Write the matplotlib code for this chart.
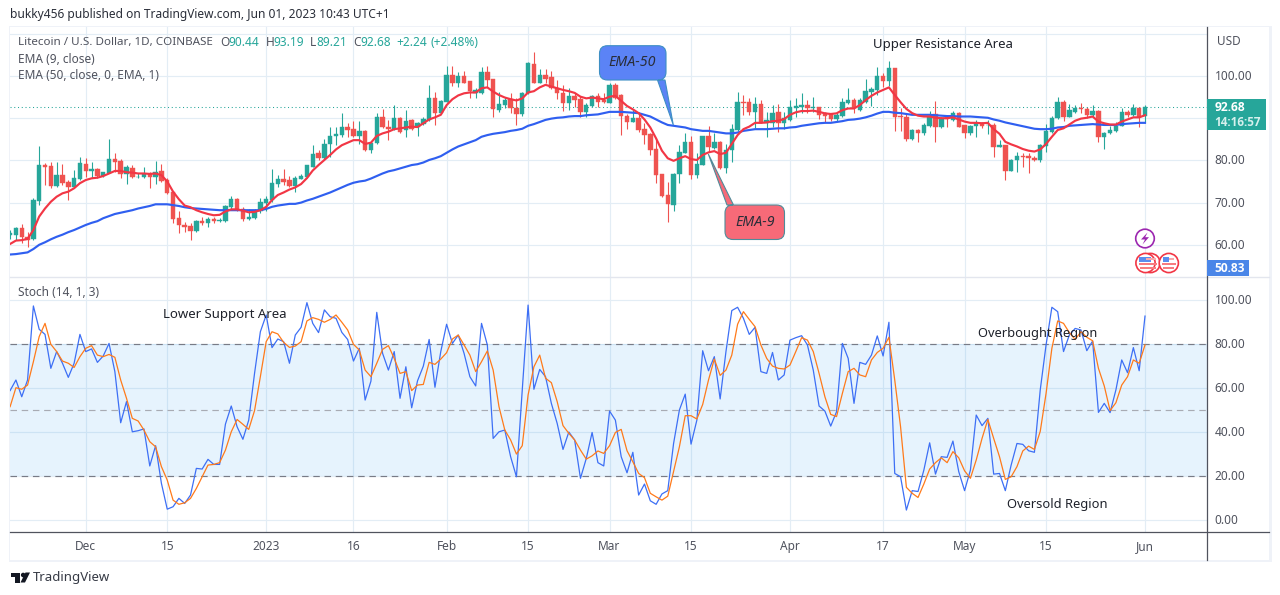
import numpy as np
import matplotlib
matplotlib.use("Agg")
import matplotlib.pyplot as plt
from matplotlib.patches import Rectangle, Circle, Polygon, PathPatch
from matplotlib.path import Path

FONT = ["Noto Sans", "DejaVu Sans"]
plt.rcParams["font.family"] = FONT

opens = [62.4,62.3,63.9,61.8,61.3,70.4,78.9,78.7,74.0,76.5,
75.0,73.6,75.6,79.1,77.6,78.0,76.4,77.1,80.3,79.9,
76.8,78.1,76.0,76.1,76.7,76.1,77.4,75.4,72.4,66.3,
64.8,64.5,63.3,65.6,65.2,66.0,65.7,65.6,69.0,70.9,
68.6,66.1,66.3,67.9,69.8,70.6,74.4,75.6,75.4,74.0,
75.7,76.1,78.5,81.7,80.5,83.9,85.9,86.0,87.8,87.4,
85.8,87.0,82.5,84.2,90.2,87.8,87.5,90.0,87.2,89.6,
87.8,88.6,89.6,94.7,91.2,93.9,100.2,98.4,100.0,98.7,
95.9,95.9,101.0,99.2,91.9,93.1,94.5,92.5,91.0,95.9,
102.8,98.4,100.2,99.8,97.1,95.9,93.7,95.3,94.5,91.5,
93.0,95.3,94.2,93.7,97.9,95.5,90.5,89.2,90.1,87.4,
86.2,82.6,76.8,71.8,69.4,76.8,81.8,84.4,76.5,78.9,
85.8,83.0,84.4,78.2,82.5,87.2,93.8,93.8,91.5,93.4,
88.9,88.9,91.5,88.9,89.6,92.5,92.7,93.1,92.3,92.6,
91.2,90.9,89.7,90.6,93.5,94.3,91.9,93.9,96.3,96.7,
100.0,98.9,101.8,90.5,90.4,85.1,87.2,86.4,88.2,91.0,
88.0,90.2,89.6,91.15,88.4,86.4,88.2,88.8,88.4,88.5,
83.2,83.6,77.6,80.0,81.0,81.0,80.6,80.1,83.5,86.8,
90.0,93.9,90.2,91.5,92.4,92.1,90.8,91.7,85.6,86.6,
87.0,88.2,91.4,90.8,92.5,90.44]

highs = [63.5,64.3,64.9,63.1,71.2,83.4,79.3,79.7,79.7,79.1,
75.4,77.7,80.9,80.5,79.7,78.1,77.3,85.0,81.7,80.3,
78.9,78.9,77.1,78.5,77.3,79.9,79.1,75.8,72.6,67.9,
65.5,65.2,65.9,66.7,66.7,66.7,66.3,69.4,71.6,71.0,
69.0,68.6,68.6,71.0,71.6,77.9,76.5,77.9,76.3,76.3,
76.7,78.9,83.6,82.5,85.1,87.8,88.0,91.2,88.8,89.4,
89.4,87.2,84.4,91.2,92.1,89.6,93.1,90.2,91.9,89.7,
89.2,90.2,97.9,96.3,94.3,102.4,102.4,100.9,101.3,98.7,
97.1,102.1,102.4,99.4,96.3,95.1,95.9,94.7,96.3,103.4,
105.6,101.6,101.6,101.3,99.0,97.9,97.1,96.0,95.3,93.5,
95.5,96.0,95.9,98.4,98.4,95.7,91.0,91.9,91.2,88.9,
86.6,85.2,76.8,75.0,76.9,83.6,86.4,85.8,81.7,85.8,
88.2,86.6,84.6,84.0,88.6,96.3,95.5,94.7,95.1,94.2,
91.5,93.1,93.4,91.5,94.3,94.7,95.9,94.2,95.1,92.7,
91.5,91.3,91.2,94.7,97.1,94.7,94.7,99.4,97.5,102.1,
100.6,103.6,102.0,92.3,91.15,87.4,87.4,88.9,91.7,94.1,
90.2,90.8,91.7,91.4,88.5,88.4,89.6,89.2,89.6,88.8,
84.8,83.6,80.3,82.1,81.8,81.7,81.0,84.0,88.6,90.5,
95.1,94.3,93.4,93.1,93.5,92.7,93.1,91.9,86.8,88.2,
89.2,92.5,91.9,93.4,92.7,93.19]

lows = [61.3,61.1,60.5,59.4,61.1,69.4,74.2,73.4,73.6,74.2,
70.6,73.4,75.4,76.1,75.8,75.8,76.1,76.9,77.3,75.8,
74.4,75.8,75.8,75.8,73.4,74.4,75.0,72.0,65.2,62.9,
63.1,61.1,63.1,64.7,64.3,65.1,65.5,65.5,68.6,67.9,
65.7,65.9,66.1,67.6,67.9,70.2,73.8,74.2,73.8,72.6,
75.5,75.8,78.4,80.1,80.3,80.9,83.7,85.6,85.6,85.5,
84.0,82.3,81.7,84.0,87.6,84.8,87.2,86.4,85.6,87.2,
85.8,88.4,89.4,88.4,91.0,93.8,97.6,97.5,98.3,94.7,
94.7,95.7,97.3,90.2,91.5,92.3,91.15,88.4,90.5,95.7,
98.3,98.3,98.3,96.9,94.5,91.8,91.9,92.6,90.2,90.4,
92.7,92.6,93.5,93.5,94.6,86.0,87.5,89.0,86.8,83.9,
81.3,74.6,71.4,65.5,68.0,74.6,81.7,75.5,75.8,78.8,
82.1,82.6,77.9,77.1,79.7,87.0,90.8,90.8,87.6,88.8,
85.6,88.0,86.8,87.4,89.4,90.2,91.2,91.2,91.5,89.7,
89.2,89.4,89.4,90.2,93.4,91.2,91.7,93.7,92.9,95.5,
97.3,97.6,87.0,87.0,84.6,84.8,84.4,86.0,88.0,84.4,
87.6,87.8,89.4,87.8,85.2,86.0,85.6,87.6,86.3,80.9,
83.2,75.35,77.5,77.3,78.5,77.1,79.9,79.7,82.1,86.4,
89.7,89.4,90.2,91.15,91.3,90.0,90.2,84.4,82.6,86.2,
86.8,88.1,90.2,90.5,87.8,89.21]

closes = [62.7,63.9,61.8,61.1,70.6,78.9,78.5,74.0,76.5,74.6,
73.8,75.8,79.3,77.5,78.0,76.3,77.2,80.3,79.7,76.8,
78.5,76.0,76.1,76.7,76.1,77.3,75.2,72.2,66.1,64.7,
64.3,63.3,65.6,65.2,66.1,65.7,65.9,69.2,70.9,68.2,
66.1,66.5,67.9,70.1,70.9,74.6,75.6,75.0,74.0,75.8,
76.3,78.8,81.4,80.5,84.0,85.9,86.3,87.8,87.2,85.8,
87.0,82.5,84.2,90.2,87.8,87.5,90.0,86.8,89.3,87.4,
88.8,89.9,94.7,91.3,94.1,100.2,98.4,100.0,98.4,96.4,
96.7,101.0,99.0,92.1,93.4,94.3,92.3,91.0,96.05,103.0,
98.4,100.2,99.4,97.1,95.9,93.7,95.3,94.3,91.5,93.1,
95.3,93.9,93.9,97.9,94.7,90.5,89.2,90.1,87.2,86.0,
82.5,76.5,71.6,69.7,76.8,81.9,84.4,76.5,79.1,85.8,
83.1,84.4,78.1,82.5,87.4,93.8,93.7,91.5,93.4,88.9,
89.6,91.15,88.9,90.0,92.6,92.9,93.1,92.3,92.6,90.8,
90.6,89.7,90.8,93.9,94.3,92.3,94.3,96.4,96.9,100.0,
98.7,101.8,90.4,90.2,85.1,87.2,86.6,88.4,90.2,88.0,
90.0,89.7,91.15,88.0,86.6,88.2,88.8,88.2,88.5,83.25,
83.6,77.6,80.1,81.0,80.7,80.5,80.1,83.6,87.0,90.1,
93.9,90.2,91.9,92.5,92.1,90.8,91.7,85.6,86.6,87.2,
88.2,91.4,90.8,92.5,90.2,92.68]

ema9 = [60.2,61.0,61.1,61.4,63.5,66.7,68.6,70.2,71.4,72.2,
72.6,73.4,74.6,75.35,75.75,75.9,76.3,76.9,77.5,77.5,
77.2,77.1,76.9,76.9,76.8,76.9,76.5,75.0,72.6,70.8,
69.3,68.9,68.2,67.7,67.3,67.0,67.1,67.9,68.4,68.4,
68.1,67.7,67.8,68.2,69.0,70.6,71.8,72.4,73.1,73.6,
74.4,75.8,77.6,78.9,80.1,81.3,82.6,83.6,84.2,84.8,
84.8,83.9,84.2,85.8,86.4,86.8,87.4,87.6,87.8,88.0,
87.9,88.8,89.7,90.2,90.8,93.1,94.5,95.4,95.9,96.1,
96.1,97.1,97.3,96.3,95.5,94.9,94.5,94.2,94.7,96.1,
96.4,97.3,97.9,97.5,97.1,96.7,96.4,96.0,95.1,94.7,
94.9,94.7,94.5,95.1,95.3,94.1,92.9,92.1,91.2,89.7,
87.8,85.2,82.3,80.5,79.9,80.5,81.0,80.3,80.1,81.3,
81.9,82.2,81.5,81.8,83.9,86.0,87.4,88.0,88.9,88.9,
89.0,89.3,89.4,89.8,90.8,91.4,91.7,91.7,91.8,91.5,
91.15,91.0,91.15,91.9,92.3,92.3,93.1,94.3,95.3,96.1,
96.7,97.3,95.5,93.8,92.2,91.2,90.6,90.4,90.4,90.1,
90.0,90.0,90.2,89.7,89.2,88.9,88.9,88.8,88.9,87.4,
86.3,84.4,83.8,83.3,82.7,82.3,82.1,82.6,83.9,85.6,
87.2,87.6,88.5,89.4,89.9,90.1,90.4,89.2,88.8,88.5,
88.5,89.2,89.7,90.2,90.2,90.7]

ema50 = [57.7,57.8,58.0,58.2,59.0,60.0,60.6,61.3,61.9,62.4,
63.0,63.5,64.1,64.7,65.2,65.6,66.3,66.8,67.3,67.6,
67.9,68.2,68.6,68.9,69.2,69.6,69.6,69.6,69.4,69.2,
68.9,68.7,68.6,68.5,68.4,68.3,68.2,68.2,68.2,68.2,
68.2,68.2,68.2,68.2,68.5,69.0,69.3,69.5,69.7,69.7,
70.0,70.5,70.9,71.4,71.9,72.4,73.0,73.6,74.2,74.7,
75.0,75.2,75.7,76.3,76.9,77.4,77.7,78.1,78.5,78.9,
79.1,79.5,80.1,80.5,81.0,81.8,82.6,83.3,83.8,84.3,
84.8,85.6,86.0,86.3,86.5,86.7,87.0,87.2,87.5,88.2,
88.6,89.1,89.6,89.9,90.1,90.2,90.4,90.5,90.5,90.7,
90.8,90.9,91.2,91.5,91.5,91.5,91.4,91.3,91.2,90.8,
90.4,89.7,89.0,88.4,88.2,88.0,87.8,87.4,87.2,87.0,
87.0,86.8,86.6,86.4,86.4,86.6,87.0,87.2,87.4,87.4,
87.4,87.5,87.6,87.6,87.8,87.9,88.2,88.4,88.6,88.8,
88.9,88.9,89.1,89.3,89.6,89.7,89.9,90.2,90.6,91.1,
91.5,91.5,91.3,91.2,91.0,90.8,90.8,90.8,90.8,90.7,
90.6,90.5,90.5,90.4,90.4,90.4,90.3,90.2,90.1,89.7,
89.4,89.0,88.7,88.4,88.1,87.8,87.5,87.4,87.4,87.5,
87.8,87.9,88.2,88.3,88.4,88.5,88.6,88.5,88.4,88.4,
88.4,88.6,88.7,88.8,88.9,88.9]

stoch_k = [58.9,63.7,56.1,63.7,97.3,86.7,84.4,69.0,76.6,71.3,
64.9,71.3,84.4,76.6,77.8,71.7,74.6,80.3,67.5,44.3,
53.9,40.2,40.7,41.5,24.7,33.9,16.8,5.1,6.2,10.0,
7.7,11.5,23.6,23.3,27.7,25.4,25.4,43.7,51.9,42.5,
36.8,45.5,66.7,85.6,93.2,78.4,82.3,81.1,71.3,84.1,
87.6,98.8,89.4,85.2,95.5,92.4,91.7,85.3,82.1,72.3,
78.1,54.6,63.2,94.4,75.8,68.2,76.6,55.4,69.7,51.1,
63.3,70.0,82.1,60.4,76.6,89.0,80.3,84.1,75.8,65.2,
61.0,89.4,79.6,37.2,40.2,41.0,28.9,19.8,59.2,97.7,
59.5,68.5,65.2,53.1,44.0,32.2,40.1,36.5,19.1,28.1,
39.9,26.2,24.7,49.6,45.5,28.9,21.6,30.9,11.5,16.5,
8.9,7.3,12.0,13.5,34.9,50.1,57.3,34.6,45.5,77.0,
67.9,74.3,55.1,76.6,95.2,96.7,91.7,84.4,87.6,67.5,
66.7,76.2,63.7,66.0,81.8,82.9,83.8,79.6,68.2,51.9,
49.6,42.8,49.3,80.3,73.5,53.1,71.7,70.8,75.0,83.7,
74.6,89.9,21.3,19.8,4.7,13.5,13.1,22.8,35.2,21.0,
28.9,28.6,36.0,22.1,13.5,22.8,47.8,43.0,46.3,21.0,
21.3,13.5,25.1,34.9,34.5,31.6,30.9,59.2,79.6,96.7,
94.7,76.6,84.1,87.1,86.4,77.0,81.4,49.0,53.1,48.9,
59.2,72.8,67.0,78.4,67.9,92.7]

stoch_d = [51.6,60.2,59.5,61.4,72.0,83.4,89.4,79.9,76.6,72.3,
71.3,69.4,74.3,78.1,79.3,75.0,74.3,75.3,74.0,63.7,
55.4,46.3,45.1,41.0,35.7,33.4,24.4,18.3,9.2,7.3,
8.0,10.0,14.5,19.8,25.1,25.4,26.2,31.9,40.2,45.8,
43.6,41.3,49.8,65.2,81.1,85.6,84.6,80.8,78.5,79.1,
81.1,90.5,92.0,91.2,89.9,91.2,93.2,89.9,86.4,79.9,
77.3,68.2,65.2,71.3,77.6,79.3,73.5,66.7,67.5,58.9,
61.4,61.7,71.7,70.8,73.2,76.1,82.3,84.1,79.6,75.0,
67.5,72.0,76.9,68.2,51.6,41.0,36.5,30.1,33.9,56.9,
69.7,75.0,64.5,62.5,53.9,43.0,39.5,36.5,31.9,27.8,
29.3,31.5,30.4,33.9,39.9,41.3,31.6,26.6,21.3,19.4,
12.3,10.7,9.2,11.0,22.1,33.4,47.5,47.5,46.0,52.6,
63.7,73.2,65.8,68.2,75.0,89.0,94.7,91.2,87.9,79.6,
73.5,70.0,69.0,68.7,70.5,76.6,82.9,81.8,76.6,66.7,
56.1,48.1,47.1,57.6,67.5,69.0,66.0,65.2,72.8,76.2,
78.1,83.1,63.7,42.5,15.0,12.3,10.4,16.5,23.3,26.2,
28.4,26.2,31.2,28.4,22.5,19.1,27.4,37.2,45.8,37.2,
28.9,18.6,19.8,24.4,31.5,33.7,32.2,40.4,57.6,78.1,
90.5,89.4,85.2,82.1,85.6,83.1,81.5,69.0,61.0,49.8,
53.4,61.4,65.2,72.8,71.3,79.6]

time_tick_idx = [13, 27, 44, 59, 75, 89, 103, 117, 134, 150, 164, 178, 195]
time_tick_lab = ["Dec", "15", "2023", "16", "Feb", "15", "Mar", "15", "Apr", "17", "May", "15", "Jun"]
price_ticks = [60, 70, 80, 90, 100, 110]
price_labels = {60: "60.00", 70: "70.00", 80: "80.00", 100: "100.00"}
stoch_ticks = [0, 20, 40, 60, 80, 100]
last_price = 92.68
hidden_level = 50.83

W, H = 1280, 595
UP, DOWN = "#26A69A", "#EF5350"
GRID = "#E3EDF5"
TXT = "#50535E"
DARK = "#50535E"

fig = plt.figure(figsize=(W / 100, H / 100), dpi=100, facecolor="white")

def axes_px(x0, y0, x1, y1, **kw):
    return fig.add_axes([x0 / W, 1 - y1 / H, (x1 - x0) / W, (y1 - y0) / H], **kw)

L, R = 10.0, 1206.5
X_PER = 5.82
xlim = ((L - 10.1) / X_PER, (R - 10.1) / X_PER)
x = np.arange(len(closes))

ax = axes_px(L, 27, R, 276.5)
ax.set_xlim(*xlim)
ax.set_ylim(100 - (276.5 - 76) / 4.22, 100 + (76 - 27) / 4.22)
bx = axes_px(L, 277, R, 532)
bx.set_xlim(*xlim)
bx.set_ylim(-(532 - 520.4) / 2.204, (520.4 - 277) / 2.204)

for a, yt in ((ax, price_ticks), (bx, stoch_ticks)):
    a.set_xticks(time_tick_idx)
    a.set_yticks(yt)
    a.grid(True, color=GRID, lw=0.85, zorder=0)
    a.set_axisbelow(True)
    a.tick_params(left=False, bottom=False, labelleft=False, labelbottom=False)
    for s in a.spines.values():
        s.set_visible(False)

o, h, l, c = map(np.array, (opens, highs, lows, closes))
cols = np.where(c >= o, UP, DOWN)
ax.vlines(x, l, h, colors=cols, lw=0.8, zorder=2)
ax.bar(x, np.abs(c - o), bottom=np.minimum(o, c), width=0.76, color=cols,
       edgecolor=cols, lw=0.3, zorder=3)
ax.axhline(last_price, color=UP, lw=0.75, ls=(0, (1, 2.6)), zorder=2.5)
ax.plot(x, ema50, color="#2F5FF0", lw=1.55, zorder=4, solid_joinstyle="round")
ax.plot(x, ema9, color="#F23645", lw=1.55, zorder=5, solid_joinstyle="round")

bx.axhspan(20, 80, facecolor="#2196F3", alpha=0.11, lw=0, zorder=1)
for lev, colr in ((80, "#787B86"), (50, "#A8ABB3"), (20, "#787B86")):
    bx.axhline(lev, color=colr, lw=0.85, ls=(0, (5.5, 4)), zorder=2)
bx.plot(x, stoch_k, color="#3D6FF5", lw=0.9, zorder=3)
bx.plot(x, stoch_d, color="#FF7A1A", lw=0.9, zorder=4)

ov = fig.add_axes([0, 0, 1, 1], facecolor="none")
ov.set_xlim(0, W)
ov.set_ylim(H, 0)
ov.axis("off")

def T(px, py, s, size=12, color=TXT, ha="left", va="center", **kw):
    ov.text(px, py + 0.6, s, fontsize=size * 0.72, color=color, ha=ha, va=va, **kw)

FR = "#EFF2F8"
for rect in ((8.5, 26, 1.5, 535), (1269, 26, 2.5, 535), (8.5, 559.5, 1263, 2.5), (8.5, 26, 1263, 1.3)):
    ov.add_patch(Rectangle(rect[:2], rect[2], rect[3], fc=FR, ec="none"))
ov.plot([L, 1269], [276.5, 276.5], color="#E3E6EE", lw=1.0)
ov.plot([L, 1269], [532.3, 532.3], color=DARK, lw=0.9)
ov.plot([R, R], [27, 559.5], color=DARK, lw=0.9)

T(10, 14, "bukky456 published on TradingView.com, Jun 01, 2023 10:43 UTC+1", size=11.95, color="#2A2E39")
T(18, 41.5, "Litecoin / U.S. Dollar, 1D, COINBASE", size=11.65)
T(18, 58.5, "EMA (9, close)", size=11.85)
T(18, 75, "EMA (50, close, 0, EMA, 1)", size=11.85)
for xp, s, col in ((220.5, "O", TXT), (228.5, "90.44", UP), (265.5, "H", TXT), (273, "93.19", UP),
                   (310, "L", TXT), (316, "89.21", UP), (353, "C", TXT), (360.5, "92.68", UP),
                   (396.5, "+2.24", UP), (430.5, "(+2.48%)", UP)):
    T(xp, 41.5, s, size=11.9, color=col)
T(18, 291.5, "Stoch (14, 1, 3)", size=11.85)

T(873, 44, "Upper Resistance Area", size=13.2, color="#1F222B")
T(163, 314, "Lower Support Area", size=13.2, color="#1F222B")
T(978, 333, "Overbought Region", size=12.85, color="#1F222B")
T(1007, 504, "Oversold Region", size=12.9, color="#1F222B")

T(1216.5, 40.5, "USD", size=11.8)
for p, s in price_labels.items():
    T(1214.5, 76 + (100 - p) * 4.22, s, size=11.9)
for v in stoch_ticks:
    T(1214.5, 520.4 - v * 2.204, f"{v:.2f}", size=11.9)
for i, s in zip(time_tick_idx, time_tick_lab):
    T(10.1 + X_PER * i, 545.5, s, size=11.9, ha="center", fontweight="bold" if s == "2023" else "normal")

ov.add_patch(Rectangle((R, 99), 59.5, 31, fc=UP, ec="none", zorder=6))
T(1214.5, 107, f"{last_price:.2f}", size=12, color="white", fontweight="bold", family="Open Sans", zorder=7)
T(1214.5, 121.5, "14:16:57", size=11.6, color="#D5F0ED", fontweight="bold", family="Open Sans", zorder=7)
ov.add_patch(Rectangle((R, 260), 42.5, 16, fc="#4A86E8", ec="none", zorder=6))
T(1214.5, 268, f"{hidden_level:.2f}", size=12, color="white", fontweight="bold", family="Open Sans", zorder=7)

def callout(x0, y0, x1, y1, r, side, b1, tip, b2, fc, ec):
    v = [(x0 + r, y0)]
    k = [Path.MOVETO]
    if side == "top":
        v += [(b1, y0), tip, (b2, y0)]
        k += [Path.LINETO] * 3
    v += [(x1 - r, y0), (x1, y0), (x1, y0 + r), (x1, y1 - r), (x1, y1), (x1 - r, y1)]
    k += [Path.LINETO, Path.CURVE3, Path.CURVE3, Path.LINETO, Path.CURVE3, Path.CURVE3]
    if side == "bottom":
        v += [(b1, y1), tip, (b2, y1)]
        k += [Path.LINETO] * 3
    v += [(x0 + r, y1), (x0, y1), (x0, y1 - r), (x0, y0 + r), (x0, y0), (x0 + r, y0), (x0 + r, y0)]
    k += [Path.LINETO, Path.CURVE3, Path.CURVE3, Path.LINETO, Path.CURVE3, Path.CURVE3, Path.CLOSEPOLY]
    ov.add_patch(PathPatch(Path(v, k), fc=fc, ec=ec, lw=0.8, zorder=5))

callout(599.5, 45.7, 666, 80, 8, "bottom", 665, (673.3, 125), 657.5, "#5B83F6", "#3E8FC4")
T(632.5, 62, "EMA-50", size=14.2, color="#2A2E39", ha="center", style="italic", zorder=6)
callout(725, 205, 784.5, 239.5, 8, "top", 727, (708.3, 154), 733.5, "#F76A78", "#4F8C9A")
T(755, 221.5, "EMA-9", size=14.2, color="#2A2E39", ha="center", style="italic", zorder=6)

ov.add_patch(Circle((1145, 238.5), 9.3, fc="white", ec="#9C27B0", lw=1.2, zorder=5))
ov.add_patch(Polygon([(1147.5, 232.5), (1141, 239.5), (1145, 239.5), (1142.5, 244.5),
                      (1149, 237.2), (1145.2, 237.2)], fc="#9C27B0", ec="none", zorder=6))
for cx in (1150.5, 1145.5, 1168.8):
    ov.add_patch(Circle((cx, 263), 9.6, fc="white", ec="#F23645", lw=1.2, zorder=5))
    ov.add_patch(Rectangle((cx - 6.8, 262.5), 13.6, 2.4, fc="#F77C80", ec="none", zorder=6))
    ov.add_patch(Rectangle((cx - 5.5, 266.6), 11, 2.2, fc="#F77C80", ec="none", zorder=6))
    ov.add_patch(Rectangle((cx - 6.2, 257), 6.5, 5.2, fc="#5A8DEE", ec="none", zorder=6))
    ov.add_patch(Rectangle((cx + 0.5, 258.2), 5, 1.6, fc="#F9A8AB", ec="none", zorder=6))

ov.add_patch(Polygon([(10.5, 572.5), (20, 572.5), (20, 582.5), (15, 582.5), (15, 577), (10.5, 577)], fc="#131722", ec="none"))
ov.add_patch(Circle((23.2, 575), 2.3, fc="#131722", ec="none"))
ov.add_patch(Polygon([(25, 582.5), (20.5, 582.5), (25.5, 572.5), (30, 572.5)], fc="#131722", ec="none"))
T(33, 577, "TradingView", size=13.2, color="#363A45")

fig.savefig("out.png", dpi=100, facecolor="white")
